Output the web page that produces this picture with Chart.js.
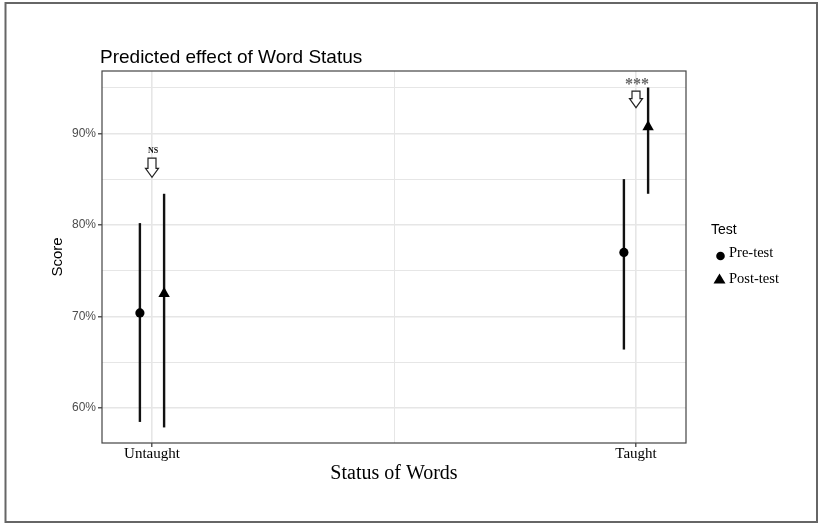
<!DOCTYPE html>
<html>
<head>
<meta charset="utf-8">
<script src="https://cdn.jsdelivr.net/npm/chart.js@4.4.1/dist/chart.umd.min.js"></script>
<style>
  html, body { margin: 0; padding: 0; background: #ffffff; }
  #wrap { width: 819px; height: 524px; }
</style>
</head>
<body>
<div id="wrap"><canvas id="c" width="819" height="524"></canvas></div>
<script>
// Word status categories (x positions 0 and 1)
const categories = ['Untaught', 'Taught'];

// Pre-test estimates with confidence limits (%)
const preMean = [70.4, 77.0];
const preLow  = [58.5, 66.4];
const preHigh = [80.2, 85.0];

// Post-test estimates with confidence limits (%)
const postMean = [72.5, 90.7];
const postLow  = [57.9, 83.4];
const postHigh = [83.4, 95.0];

// Y axis ticks: labelled majors every 10, minors in between
const yTicks = [60, 65, 70, 75, 80, 85, 90, 95];
const yTickLabels = { 60: '60%', 70: '70%', 80: '80%', 90: '90%' };

// Significance marks above each category
const sigLabels = ['NS', '***'];
const sigTextY = [88.1, 95.5];
const arrowTop = [87.3, 94.6];
const arrowBottom = [85.2, 92.8];

const DODGE = 0.025;
const SANS = '"Liberation Sans", Arial, sans-serif';
const SERIF = '"Liberation Serif", "Times New Roman", serif';

function barData(idx, low, high, off) {
  return [{ x: idx + off, y: low[idx] }, { x: idx + off, y: high[idx] }];
}

const datasets = [
  {
    label: 'Pre-test',
    data: categories.map((c, i) => ({ x: i - DODGE, y: preMean[i] })),
    pointStyle: 'circle', pointRadius: 4.6,
    backgroundColor: '#000', borderColor: '#000', borderWidth: 0,
    showLine: false, order: 1
  },
  {
    label: 'Post-test',
    data: categories.map((c, i) => ({ x: i + DODGE, y: postMean[i] })),
    pointStyle: 'triangle', pointRadius: 6.6,
    backgroundColor: '#000', borderColor: '#000', borderWidth: 0,
    showLine: false, order: 1
  }
];
categories.forEach((c, i) => {
  datasets.push({ label: 'pre-ci', data: barData(i, preLow, preHigh, -DODGE),
    showLine: true, borderColor: '#111', borderWidth: 2.4, pointRadius: 0, order: 2 });
  datasets.push({ label: 'post-ci', data: barData(i, postLow, postHigh, DODGE),
    showLine: true, borderColor: '#111', borderWidth: 2.4, pointRadius: 0, order: 2 });
});

function drawDownArrow(ctx, cx, top, bottom, headW, shaftW, headH) {
  ctx.beginPath();
  ctx.moveTo(cx - shaftW / 2, top);
  ctx.lineTo(cx + shaftW / 2, top);
  ctx.lineTo(cx + shaftW / 2, bottom - headH);
  ctx.lineTo(cx + headW / 2, bottom - headH);
  ctx.lineTo(cx, bottom);
  ctx.lineTo(cx - headW / 2, bottom - headH);
  ctx.lineTo(cx - shaftW / 2, bottom - headH);
  ctx.closePath();
  ctx.fillStyle = '#fff';
  ctx.fill();
  ctx.strokeStyle = '#222';
  ctx.lineWidth = 1.2;
  ctx.stroke();
}

const decor = {
  id: 'decor',
  beforeDraw(chart) {
    const ctx = chart.ctx;
    ctx.save();
    ctx.fillStyle = '#fff';
    ctx.fillRect(0, 0, chart.width, chart.height);
    ctx.restore();
  },
  afterDraw(chart) {
    const ctx = chart.ctx;
    const a = chart.chartArea;
    const xs = chart.scales.x, ys = chart.scales.y;
    ctx.save();

    // panel border
    ctx.strokeStyle = '#444';
    ctx.lineWidth = 1.2;
    ctx.strokeRect(a.left, a.top, a.right - a.left, a.bottom - a.top);

    // outer frame
    ctx.strokeStyle = '#666';
    ctx.lineWidth = 2;
    ctx.strokeRect(5.5, 3, 811.5, 519);

    // title
    ctx.fillStyle = '#000';
    ctx.font = '19px ' + SANS;
    ctx.textAlign = 'left';
    ctx.textBaseline = 'alphabetic';
    ctx.fillText('Predicted effect of Word Status', 100, 63);

    // axis titles
    ctx.font = '20px ' + SERIF;
    ctx.textAlign = 'center';
    ctx.textBaseline = 'middle';
    ctx.fillText('Status of Words', (a.left + a.right) / 2, 474);

    ctx.save();
    ctx.translate(58, (a.top + a.bottom) / 2);
    ctx.rotate(-Math.PI / 2);
    ctx.font = '15px ' + SANS;
    ctx.fillText('Score', 0, 0);
    ctx.restore();

    // significance arrows and labels
    categories.forEach((c, i) => {
      const cx = xs.getPixelForValue(i);
      const t = ys.getPixelForValue(arrowTop[i]);
      const b = ys.getPixelForValue(arrowBottom[i]);
      drawDownArrow(ctx, cx, t, b, 13, 8, 9);
      ctx.textAlign = 'center';
      ctx.textBaseline = 'middle';
      if (sigLabels[i] === 'NS') {
        ctx.fillStyle = '#111';
        ctx.font = 'bold 8px ' + SERIF;
      } else {
        ctx.fillStyle = '#666';
        ctx.font = 'bold 16px ' + SERIF;
      }
      ctx.fillText(sigLabels[i], cx + 1, ys.getPixelForValue(sigTextY[i]) + (i === 1 ? 2 : 0));
    });

    // legend
    ctx.fillStyle = '#000';
    ctx.textAlign = 'left';
    ctx.textBaseline = 'middle';
    ctx.font = '14px ' + SANS;
    ctx.fillText('Test', 711, 230);
    ctx.beginPath();
    ctx.arc(720.5, 256, 4.3, 0, Math.PI * 2);
    ctx.fill();
    ctx.beginPath();
    ctx.moveTo(719.5, 273.5);
    ctx.lineTo(725.5, 283.5);
    ctx.lineTo(713.5, 283.5);
    ctx.closePath();
    ctx.fill();
    ctx.font = '14.5px ' + SERIF;
    ctx.fillText('Pre-test', 729, 253);
    ctx.fillText('Post-test', 729, 279);

    ctx.restore();
  }
};

new Chart(document.getElementById('c'), {
  type: 'scatter',
  data: { datasets },
  plugins: [decor],
  options: {
    responsive: false,
    animation: false,
    layout: { padding: { left: 0, top: 71, right: 133, bottom: 0 } },
    plugins: { legend: { display: false }, tooltip: { enabled: false }, title: { display: false } },
    scales: {
      x: {
        type: 'linear',
        min: -0.1033,
        max: 1.1033,
        afterBuildTicks: (s) => { s.ticks = [0, 0.5, 1].map(v => ({ value: v })); },
        afterFit: (s) => { s.height = 81; },
        border: { display: false },
        grid: {
          color: '#e6e6e6',
          lineWidth: (ctx) => ctx.tick && ctx.tick.value === 0.5 ? 1 : 1.6,
          tickColor: (ctx) => ctx.tick && ctx.tick.value === 0.5 ? 'rgba(0,0,0,0)' : '#333',
          tickLength: 4,
          tickWidth: 1.2
        },
        ticks: {
          autoSkip: false,
          maxRotation: 0,
          padding: -2,
          color: '#000',
          font: { family: SERIF, size: 15 },
          callback: (v) => (v === 0 ? categories[0] : v === 1 ? categories[1] : '')
        }
      },
      y: {
        type: 'linear',
        min: 56.2,
        max: 96.8,
        afterBuildTicks: (s) => { s.ticks = yTicks.map(v => ({ value: v })); },
        afterFit: (s) => { s.width = 102; },
        border: { display: false },
        grid: {
          color: '#e6e6e6',
          lineWidth: (ctx) => ctx.tick && ctx.tick.value % 10 === 0 ? 1.6 : 1,
          tickColor: (ctx) => ctx.tick && ctx.tick.value % 10 === 0 ? '#333' : 'rgba(0,0,0,0)',
          tickLength: 4,
          tickWidth: 1.2
        },
        ticks: {
          autoSkip: false,
          padding: 2,
          color: '#4d4d4d',
          font: { family: SANS, size: 12 },
          callback: (v) => yTickLabels[v] || ''
        }
      }
    }
  }
});
</script>
</body>
</html>
